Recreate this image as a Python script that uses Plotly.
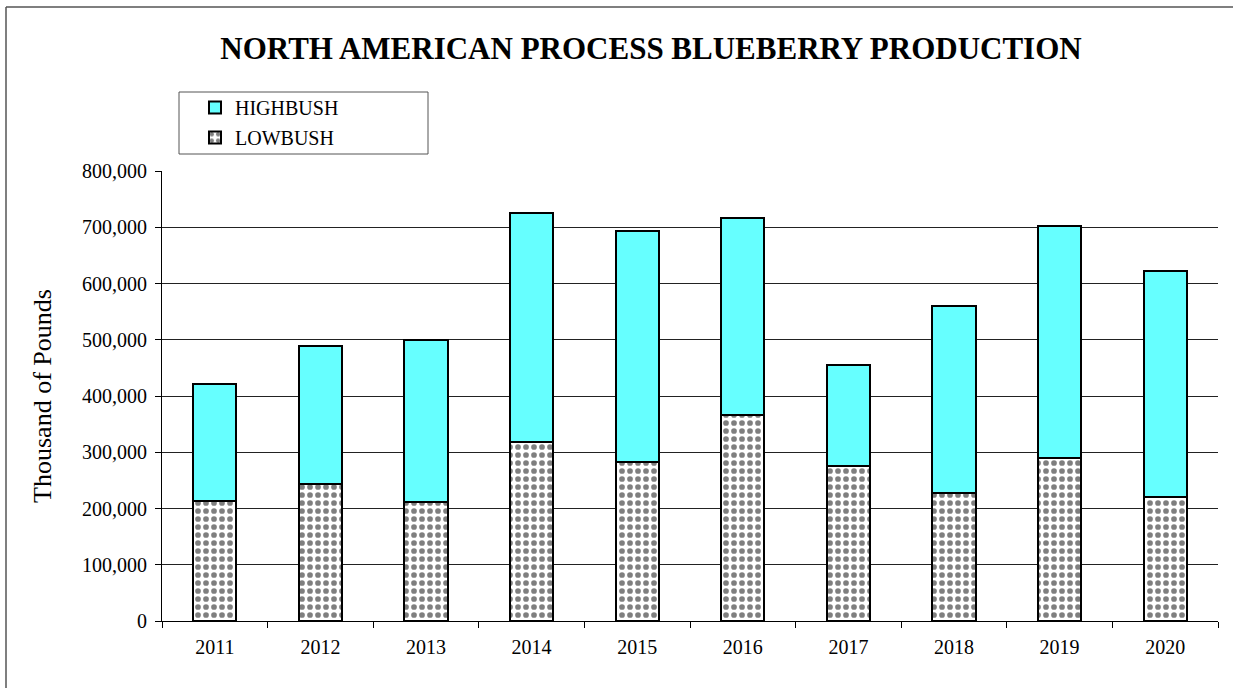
import plotly.graph_objects as go

years = ["2011", "2012", "2013", "2014", "2015", "2016", "2017", "2018", "2019", "2020"]
lowbush = [213000, 243000, 211000, 319000, 282000, 366000, 276000, 228000, 289000, 221000]
highbush = [208000, 246000, 289000, 406000, 411000, 350000, 180000, 332000, 413000, 401000]
y_ticks = [0, 100000, 200000, 300000, 400000, 500000, 600000, 700000, 800000]

FONT = "Liberation Serif, Times New Roman, serif"
W, H = 1233, 688
L, R, T, B = 162, 1218, 171, 621

def px(x):
    return (x - L) / (R - L)

def py(y):
    return (B - y) / (B - T)

fig = go.Figure()
fig.add_trace(go.Bar(
    x=years, y=lowbush, name="LOWBUSH", legendgroup="low", legendrank=2,
    marker=dict(color="white", line=dict(color="black", width=2),
                pattern=dict(shape=".", fgcolor="black", bgcolor="white", size=8, solidity=0.4)),
))
fig.add_trace(go.Bar(
    x=years, y=highbush, name="HIGHBUSH", legendgroup="high", legendrank=1,
    marker=dict(color="#66FFFF", line=dict(color="black", width=2)),
))

fig.update_layout(
    width=W, height=H,
    barmode="stack", bargap=0.59,
    paper_bgcolor="white", plot_bgcolor="white",
    margin=dict(l=L, r=W - R, t=T, b=H - B, autoexpand=False),
    font=dict(family=FONT, color="black", size=20),
    title=dict(text="<b>NORTH AMERICAN PROCESS BLUEBERRY PRODUCTION</b>",
               x=651 / W, xanchor="center", xref="container",
               y=1 - 48 / H, yanchor="middle", yref="container",
               font=dict(family=FONT, size=31, color="black")),
    legend=dict(x=px(195), y=py(88), xanchor="left", yanchor="top",
                bgcolor="rgba(0,0,0,0)", borderwidth=0,
                font=dict(family=FONT, size=20, color="black"),
                tracegroupgap=1, itemwidth=30),
    showlegend=True,
    xaxis=dict(type="category", showline=True, linecolor="black", linewidth=1,
               ticks="outside", tickson="boundaries", ticklen=6, tickcolor="black",
               ticklabelstandoff=8,
               tickfont=dict(family=FONT, size=20, color="black"), showgrid=False),
    yaxis=dict(range=[0, 800000], tickvals=y_ticks, tickformat=",",
               showline=True, linecolor="black", linewidth=1,
               ticks="outside", ticklen=6, tickcolor="black", ticklabelstandoff=4,
               showgrid=True, gridcolor="#222", gridwidth=1, zeroline=False,
               tickfont=dict(family=FONT, size=20, color="black"),
               title=dict(text="Thousand of Pounds", standoff=22,
                          font=dict(family=FONT, size=26, color="black"))),
    shapes=[
        dict(type="line", xref="paper", yref="paper",
             x0=px(6), x1=px(1240), y0=py(7), y1=py(7),
             line=dict(color="#555", width=1.5), layer="below"),
        dict(type="line", xref="paper", yref="paper",
             x0=px(6), x1=px(6), y0=py(7), y1=py(700),
             line=dict(color="#555", width=1.5), layer="below"),
        dict(type="rect", xref="paper", yref="paper",
             x0=px(179), x1=px(428), y0=py(154), y1=py(92),
             line=dict(color="#555", width=1), fillcolor="white", layer="below"),
    ],
)

fig.write_html("out.html", config={"displayModeBar": False},
               post_script="document.documentElement.style.overflow='hidden';document.documentElement.style.margin='0';document.body.style.margin='0';document.body.style.overflow='hidden';")
